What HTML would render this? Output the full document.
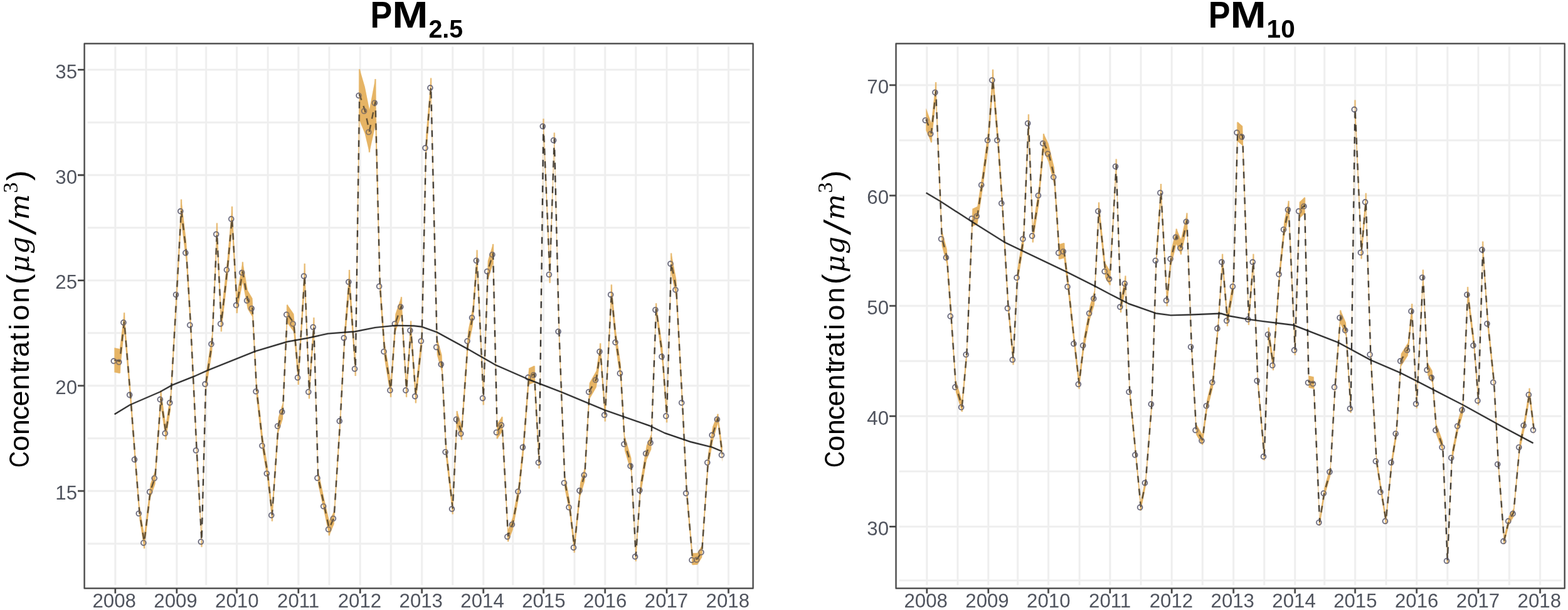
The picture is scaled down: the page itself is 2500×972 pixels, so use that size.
<!DOCTYPE html>
<html lang="en">
<head>
<meta charset="utf-8">
<title>PM2.5 and PM10 concentration trends</title>
<style>
html,body{margin:0;padding:0;background:#fff;}
body{width:2500px;height:972px;overflow:hidden;}
svg{display:block;}
</style>
</head>
<body>
<svg width="2500" height="972" viewBox="0 0 2500 972" role="img" aria-label="Monthly PM2.5 and PM10 concentration, 2008 to 2017">
<rect x="0" y="0" width="2500" height="972" fill="#fff"/>
<path d="M183.8 74.6V932.2M232.9 74.6V932.2M281.8 74.6V932.2M328.6 74.6V932.2M377.5 74.6V932.2M427.1 74.6V932.2M475.8 74.6V932.2M525 74.6V932.2M574.2 74.6V932.2M623.3 74.6V932.2M672.65 74.6V932.2M721.7 74.6V932.2M770.7 74.6V932.2M817.7 74.6V932.2M866.6 74.6V932.2M916 74.6V932.2M964.7 74.6V932.2M1013.8 74.6V932.2M1063 74.6V932.2M1112.4 74.6V932.2M1161.5 74.6V932.2M139.75 111.2H1195.45M139.75 279H1195.45M139.75 446.8H1195.45M139.75 614.6H1195.45M139.75 782.4H1195.45M139.75 195.1H1195.45M139.75 362.9H1195.45M139.75 530.7H1195.45M139.75 698.5H1195.45M139.75 866.3H1195.45" fill="none" stroke="#eeeeee" stroke-width="3.7" stroke-opacity="0.45"/>
<path d="M183.8 74.6V932.2M232.9 74.6V932.2M281.8 74.6V932.2M328.6 74.6V932.2M377.5 74.6V932.2M427.1 74.6V932.2M475.8 74.6V932.2M525 74.6V932.2M574.2 74.6V932.2M623.3 74.6V932.2M672.65 74.6V932.2M721.7 74.6V932.2M770.7 74.6V932.2M817.7 74.6V932.2M866.6 74.6V932.2M916 74.6V932.2M964.7 74.6V932.2M1013.8 74.6V932.2M1063 74.6V932.2M1112.4 74.6V932.2M1161.5 74.6V932.2M139.75 111.2H1195.45M139.75 279H1195.45M139.75 446.8H1195.45M139.75 614.6H1195.45M139.75 782.4H1195.45M139.75 195.1H1195.45M139.75 362.9H1195.45M139.75 530.7H1195.45M139.75 698.5H1195.45M139.75 866.3H1195.45" fill="none" stroke="#eeeeee" stroke-width="2.3"/>
<polygon points="182.5,554.2 190.9,556 198.1,497.8 207.8,614.9 215.6,719.38 222.45,806.53 230,852.6 239.8,771.47 247.35,749.58 256.5,622.19 264.4,676.92 271.9,627.66 281.7,453.05 289,317.3 297,385.56 303.95,502.2 313.6,704.68 321.5,851.4 328.2,597.47 338.1,532.81 345.9,355.1 352.8,500.18 362.6,412.92 369.95,328.5 377.75,469.98 386.9,417.1 394.85,462.68 402.4,475.45 409.2,609.42 419.1,696.98 426.5,741.88 433.9,808.2 443.8,665.36 450.9,642.26 458,485.28 468.3,500.18 475.75,587.13 485.7,419.5 493,610.13 500.4,505.45 507.15,749.17 516.9,794.88 524.8,830.3 532.55,814.64 542.5,657.15 549.5,522.98 557,429.6 566.7,572.84 573.25,109.7 581.7,138.5 588.95,175 598.45,125.5 605.8,439.58 613.2,545.07 623.1,607.5 630.55,500.18 639.95,472.82 648.05,607.5 655.1,510.92 662.9,617.33 672.55,528.05 679.25,216.22 687.1,123.9 696.9,537.88 704.4,565.64 711.3,707.12 721.7,799.13 728.7,654.52 735.95,677.52 746.25,528.05 753.7,490.35 760.6,398.03 770.75,620.37 777.9,415.56 786.1,388.4 792.7,675.5 800.55,663.74 810.1,844.03 817.55,824.27 827.15,771.06 834.7,699.52 843.25,586.72 851.9,582.77 859.6,724.24 866.5,188.8 876.6,420.63 883.8,211.1 891.3,512.64 900.6,757.08 908.2,796.5 915.7,861.2 925.2,769.54 932.4,744.41 939.9,610.13 950.75,590.88 957.2,546.5 964.8,647.32 974.9,453.05 982.3,530.17 989.6,580.14 996.1,694.45 1006.3,729.71 1013.8,876.15 1021,768.93 1030.9,709.75 1038.25,692.32 1046.15,482.7 1056.2,553.18 1063.1,649.05 1070.2,403.09 1078.2,445.15 1087.95,627.66 1094.9,773.9 1104.2,881.62 1111.95,881.22 1119.2,869.16 1129,724.24 1136.35,679.75 1144.55,659.3 1151.65,711.98 1151.65,735.02 1144.55,674.3 1136.35,703.65 1129,746.96 1119.2,888.04 1111.95,899.78 1104.2,900.18 1094.9,795.3 1087.95,652.94 1078.2,475.25 1070.2,434.31 1063.1,673.75 1056.2,580.42 1046.15,501.9 1038.25,715.88 1030.9,732.85 1021,790.47 1013.8,894.85 1006.3,752.29 996.1,717.95 989.6,606.66 982.3,558.03 974.9,482.95 964.8,672.08 957.2,571.1 950.75,617.12 939.9,635.87 932.4,766.59 925.2,791.06 915.7,881 908.2,817.3 900.6,778.92 891.3,540.96 883.8,232.9 876.6,451.37 866.5,210.6 859.6,746.96 851.9,609.23 843.25,613.08 834.7,722.88 827.15,792.54 817.55,844.33 810.1,863.57 800.55,688.06 792.7,699.5 786.1,420 777.9,446.44 770.75,645.83 760.6,429.37 753.7,519.25 746.25,555.95 735.95,701.48 728.7,679.08 721.7,819.87 711.3,730.28 704.4,592.56 696.9,565.52 687.1,152.9 679.25,252.38 672.55,555.95 662.9,642.87 655.1,539.28 648.05,633.3 639.95,502.18 630.55,528.82 623.1,633.3 613.2,572.53 605.8,469.82 598.45,199.5 588.95,243 581.7,212.5 573.25,191.7 566.7,599.56 557,466 549.5,551.02 542.5,681.65 532.55,834.96 524.8,853.7 516.9,815.72 507.15,771.23 500.4,533.95 493,635.87 485.7,457.5 475.75,613.47 468.3,528.82 458,514.32 450.9,667.14 443.8,689.64 433.9,831 426.5,764.12 419.1,720.42 409.2,635.18 402.4,504.75 394.85,492.32 386.9,449.1 377.75,499.42 369.95,366.3 362.6,443.88 352.8,528.82 345.9,388.5 338.1,560.59 328.2,623.53 321.5,872 313.6,727.92 303.95,530.8 297,417.24 289,352.9 281.7,482.95 271.9,652.94 264.4,700.88 256.5,647.61 247.35,771.62 239.8,792.93 230,874.6 222.45,827.07 215.6,742.22 207.8,640.5 198.1,527 190.9,595 182.5,593.2" fill="#e6b566" stroke="#e6b566" stroke-opacity="0.16" stroke-width="1.1" stroke-linejoin="round"/>
<path d="M190.9 575.5V594.5M198.1 498.3V512.4M230 863.6V874.1M256.5 622.69V634.9M264.4 688.9V700.38M289 317.8V335.1M321.5 861.7V871.5M345.9 355.6V371.8M352.8 514.5V528.32M369.95 329V347.4M377.75 484.7V498.92M386.9 417.6V433.1M433.9 819.6V830.5M458 485.78V499.8M475.75 600.3V612.97M485.7 420V438.5M493 623V635.37M500.4 505.95V519.7M524.8 842V853.2M557 430.1V447.8M566.7 586.2V599.06M573.25 110.2V150.7M588.95 209V242.5M598.45 126V162.5M623.1 620.4V632.8M639.95 473.32V487.5M648.05 620.4V632.8M655.1 511.42V525.1M662.9 630.1V642.37M687.1 124.4V138.4M721.7 809.5V819.37M728.7 655.02V666.8M735.95 689.5V700.98M760.6 398.53V413.7M770.75 633.1V645.33M786.1 388.9V404.2M792.7 687.5V699M800.55 664.24V675.9M810.1 853.8V863.07M851.9 583.27V596M859.6 735.6V746.46M866.5 189.3V199.7M876.6 436V450.87M883.8 211.6V222M915.7 871.1V880.5M957.2 547V558.8M964.8 659.7V671.58M974.9 453.55V468M1013.8 885.5V894.35M1046.15 483.2V492.3M1063.1 661.4V673.25M1070.2 403.59V418.7M1104.2 890.9V899.68M1144.55 659.8V666.8" fill="none" stroke="#e6b566" stroke-width="3.2" stroke-opacity="0.3"/>
<path d="M190.9 575.5V594.5M198.1 498.3V512.4M230 863.6V874.1M256.5 622.69V634.9M264.4 688.9V700.38M289 317.8V335.1M321.5 861.7V871.5M345.9 355.6V371.8M352.8 514.5V528.32M369.95 329V347.4M377.75 484.7V498.92M386.9 417.6V433.1M433.9 819.6V830.5M458 485.78V499.8M475.75 600.3V612.97M485.7 420V438.5M493 623V635.37M500.4 505.95V519.7M524.8 842V853.2M557 430.1V447.8M566.7 586.2V599.06M573.25 110.2V150.7M588.95 209V242.5M598.45 126V162.5M623.1 620.4V632.8M639.95 473.32V487.5M648.05 620.4V632.8M655.1 511.42V525.1M662.9 630.1V642.37M687.1 124.4V138.4M721.7 809.5V819.37M728.7 655.02V666.8M735.95 689.5V700.98M760.6 398.53V413.7M770.75 633.1V645.33M786.1 388.9V404.2M792.7 687.5V699M800.55 664.24V675.9M810.1 853.8V863.07M851.9 583.27V596M859.6 735.6V746.46M866.5 189.3V199.7M876.6 436V450.87M883.8 211.6V222M915.7 871.1V880.5M957.2 547V558.8M964.8 659.7V671.58M974.9 453.55V468M1013.8 885.5V894.35M1046.15 483.2V492.3M1063.1 661.4V673.25M1070.2 403.59V418.7M1104.2 890.9V899.68M1144.55 659.8V666.8" fill="none" stroke="#e6b566" stroke-width="1.9" stroke-opacity="0.8"/>
<path d="M182.5 573.7 L190.9 575.5 L198.1 512.4 L207.8 627.7 L215.6 730.8 L222.45 816.8 L230 863.6 L239.8 782.2 L247.35 760.6 L256.5 634.9 L264.4 688.9 L271.9 640.3 L281.7 468 L289 335.1 L297 401.4 L303.95 516.5 L313.6 716.3 L321.5 861.7 L328.2 610.5 L338.1 546.7 L345.9 371.8 L352.8 514.5 L362.6 428.4 L369.95 347.4 L377.75 484.7 L386.9 433.1 L394.85 477.5 L402.4 490.1 L409.2 622.3 L419.1 708.7 L426.5 753 L433.9 819.6 L443.8 677.5 L450.9 654.7 L458 499.8 L468.3 514.5 L475.75 600.3 L485.7 438.5 L493 623 L500.4 519.7 L507.15 760.2 L516.9 805.3 L524.8 842 L532.55 824.8 L542.5 669.4 L549.5 537 L557 447.8 L566.7 586.2 L573.25 150.7 L581.7 175.5 L588.95 209 L598.45 162.5 L605.8 454.7 L613.2 558.8 L623.1 620.4 L630.55 514.5 L639.95 487.5 L648.05 620.4 L655.1 525.1 L662.9 630.1 L672.55 542 L679.25 234.3 L687.1 138.4 L696.9 551.7 L704.4 579.1 L711.3 718.7 L721.7 809.5 L728.7 666.8 L735.95 689.5 L746.25 542 L753.7 504.8 L760.6 413.7 L770.75 633.1 L777.9 431 L786.1 404.2 L792.7 687.5 L800.55 675.9 L810.1 853.8 L817.55 834.3 L827.15 781.8 L834.7 711.2 L843.25 599.9 L851.9 596 L859.6 735.6 L866.5 199.7 L876.6 436 L883.8 222 L891.3 526.8 L900.6 768 L908.2 806.9 L915.7 871.1 L925.2 780.3 L932.4 755.5 L939.9 623 L950.75 604 L957.2 558.8 L964.8 659.7 L974.9 468 L982.3 544.1 L989.6 593.4 L996.1 706.2 L1006.3 741 L1013.8 885.5 L1021 779.7 L1030.9 721.3 L1038.25 704.1 L1046.15 492.3 L1056.2 566.8 L1063.1 661.4 L1070.2 418.7 L1078.2 460.2 L1087.95 640.3 L1094.9 784.6 L1104.2 890.9 L1111.95 890.5 L1119.2 878.6 L1129 735.6 L1136.35 691.7 L1144.55 666.8 L1151.65 723.5" fill="none" stroke="#1a1a1a" stroke-width="3.4" stroke-opacity="0.26" stroke-dasharray="11.1 9.4" stroke-dashoffset="0.4" stroke-linejoin="round"/>
<path d="M182.5 573.7 L190.9 575.5 L198.1 512.4 L207.8 627.7 L215.6 730.8 L222.45 816.8 L230 863.6 L239.8 782.2 L247.35 760.6 L256.5 634.9 L264.4 688.9 L271.9 640.3 L281.7 468 L289 335.1 L297 401.4 L303.95 516.5 L313.6 716.3 L321.5 861.7 L328.2 610.5 L338.1 546.7 L345.9 371.8 L352.8 514.5 L362.6 428.4 L369.95 347.4 L377.75 484.7 L386.9 433.1 L394.85 477.5 L402.4 490.1 L409.2 622.3 L419.1 708.7 L426.5 753 L433.9 819.6 L443.8 677.5 L450.9 654.7 L458 499.8 L468.3 514.5 L475.75 600.3 L485.7 438.5 L493 623 L500.4 519.7 L507.15 760.2 L516.9 805.3 L524.8 842 L532.55 824.8 L542.5 669.4 L549.5 537 L557 447.8 L566.7 586.2 L573.25 150.7 L581.7 175.5 L588.95 209 L598.45 162.5 L605.8 454.7 L613.2 558.8 L623.1 620.4 L630.55 514.5 L639.95 487.5 L648.05 620.4 L655.1 525.1 L662.9 630.1 L672.55 542 L679.25 234.3 L687.1 138.4 L696.9 551.7 L704.4 579.1 L711.3 718.7 L721.7 809.5 L728.7 666.8 L735.95 689.5 L746.25 542 L753.7 504.8 L760.6 413.7 L770.75 633.1 L777.9 431 L786.1 404.2 L792.7 687.5 L800.55 675.9 L810.1 853.8 L817.55 834.3 L827.15 781.8 L834.7 711.2 L843.25 599.9 L851.9 596 L859.6 735.6 L866.5 199.7 L876.6 436 L883.8 222 L891.3 526.8 L900.6 768 L908.2 806.9 L915.7 871.1 L925.2 780.3 L932.4 755.5 L939.9 623 L950.75 604 L957.2 558.8 L964.8 659.7 L974.9 468 L982.3 544.1 L989.6 593.4 L996.1 706.2 L1006.3 741 L1013.8 885.5 L1021 779.7 L1030.9 721.3 L1038.25 704.1 L1046.15 492.3 L1056.2 566.8 L1063.1 661.4 L1070.2 418.7 L1078.2 460.2 L1087.95 640.3 L1094.9 784.6 L1104.2 890.9 L1111.95 890.5 L1119.2 878.6 L1129 735.6 L1136.35 691.7 L1144.55 666.8 L1151.65 723.5" fill="none" stroke="#1a1a1a" stroke-width="1.9" stroke-opacity="0.9" stroke-dasharray="10.3 10.2" stroke-linejoin="round"/>
<g fill="none" stroke="#4b4b62" stroke-width="2.7" stroke-opacity="0.22"><circle cx="181.3" cy="575.2" r="3.9"/><circle cx="189.7" cy="577" r="3.9"/><circle cx="196.9" cy="513.9" r="3.9"/><circle cx="206.6" cy="629.2" r="3.9"/><circle cx="214.4" cy="732.3" r="3.9"/><circle cx="221.25" cy="818.3" r="3.9"/><circle cx="228.8" cy="865.1" r="3.9"/><circle cx="238.6" cy="783.7" r="3.9"/><circle cx="246.15" cy="762.1" r="3.9"/><circle cx="255.3" cy="636.4" r="3.9"/><circle cx="263.2" cy="690.4" r="3.9"/><circle cx="270.7" cy="641.8" r="3.9"/><circle cx="280.5" cy="469.5" r="3.9"/><circle cx="287.8" cy="336.6" r="3.9"/><circle cx="295.8" cy="402.9" r="3.9"/><circle cx="302.75" cy="518" r="3.9"/><circle cx="312.4" cy="717.8" r="3.9"/><circle cx="320.3" cy="863.2" r="3.9"/><circle cx="327" cy="612" r="3.9"/><circle cx="336.9" cy="548.2" r="3.9"/><circle cx="344.7" cy="373.3" r="3.9"/><circle cx="351.6" cy="516" r="3.9"/><circle cx="361.4" cy="429.9" r="3.9"/><circle cx="368.75" cy="348.9" r="3.9"/><circle cx="376.55" cy="486.2" r="3.9"/><circle cx="385.7" cy="434.6" r="3.9"/><circle cx="393.65" cy="479" r="3.9"/><circle cx="401.2" cy="491.6" r="3.9"/><circle cx="408" cy="623.8" r="3.9"/><circle cx="417.9" cy="710.2" r="3.9"/><circle cx="425.3" cy="754.5" r="3.9"/><circle cx="432.7" cy="821.1" r="3.9"/><circle cx="442.6" cy="679" r="3.9"/><circle cx="449.7" cy="656.2" r="3.9"/><circle cx="456.8" cy="501.3" r="3.9"/><circle cx="467.1" cy="516" r="3.9"/><circle cx="474.55" cy="601.8" r="3.9"/><circle cx="484.5" cy="440" r="3.9"/><circle cx="491.8" cy="624.5" r="3.9"/><circle cx="499.2" cy="521.2" r="3.9"/><circle cx="505.95" cy="761.7" r="3.9"/><circle cx="515.7" cy="806.8" r="3.9"/><circle cx="523.6" cy="843.5" r="3.9"/><circle cx="531.35" cy="826.3" r="3.9"/><circle cx="541.3" cy="670.9" r="3.9"/><circle cx="548.3" cy="538.5" r="3.9"/><circle cx="555.8" cy="449.3" r="3.9"/><circle cx="565.5" cy="587.7" r="3.9"/><circle cx="572.05" cy="152.2" r="3.9"/><circle cx="580.5" cy="177" r="3.9"/><circle cx="587.75" cy="210.5" r="3.9"/><circle cx="597.25" cy="164" r="3.9"/><circle cx="604.6" cy="456.2" r="3.9"/><circle cx="612" cy="560.3" r="3.9"/><circle cx="621.9" cy="621.9" r="3.9"/><circle cx="629.35" cy="516" r="3.9"/><circle cx="638.75" cy="489" r="3.9"/><circle cx="646.85" cy="621.9" r="3.9"/><circle cx="653.9" cy="526.6" r="3.9"/><circle cx="661.7" cy="631.6" r="3.9"/><circle cx="671.35" cy="543.5" r="3.9"/><circle cx="678.05" cy="235.8" r="3.9"/><circle cx="685.9" cy="139.9" r="3.9"/><circle cx="695.7" cy="553.2" r="3.9"/><circle cx="703.2" cy="580.6" r="3.9"/><circle cx="710.1" cy="720.2" r="3.9"/><circle cx="720.5" cy="811" r="3.9"/><circle cx="727.5" cy="668.3" r="3.9"/><circle cx="734.75" cy="691" r="3.9"/><circle cx="745.05" cy="543.5" r="3.9"/><circle cx="752.5" cy="506.3" r="3.9"/><circle cx="759.4" cy="415.2" r="3.9"/><circle cx="769.55" cy="634.6" r="3.9"/><circle cx="776.7" cy="432.5" r="3.9"/><circle cx="784.9" cy="405.7" r="3.9"/><circle cx="791.5" cy="689" r="3.9"/><circle cx="799.35" cy="677.4" r="3.9"/><circle cx="808.9" cy="855.3" r="3.9"/><circle cx="816.35" cy="835.8" r="3.9"/><circle cx="825.95" cy="783.3" r="3.9"/><circle cx="833.5" cy="712.7" r="3.9"/><circle cx="842.05" cy="601.4" r="3.9"/><circle cx="850.7" cy="597.5" r="3.9"/><circle cx="858.4" cy="737.1" r="3.9"/><circle cx="865.3" cy="201.2" r="3.9"/><circle cx="875.4" cy="437.5" r="3.9"/><circle cx="882.6" cy="223.5" r="3.9"/><circle cx="890.1" cy="528.3" r="3.9"/><circle cx="899.4" cy="769.5" r="3.9"/><circle cx="907" cy="808.4" r="3.9"/><circle cx="914.5" cy="872.6" r="3.9"/><circle cx="924" cy="781.8" r="3.9"/><circle cx="931.2" cy="757" r="3.9"/><circle cx="938.7" cy="624.5" r="3.9"/><circle cx="949.55" cy="605.5" r="3.9"/><circle cx="956" cy="560.3" r="3.9"/><circle cx="963.6" cy="661.2" r="3.9"/><circle cx="973.7" cy="469.5" r="3.9"/><circle cx="981.1" cy="545.6" r="3.9"/><circle cx="988.4" cy="594.9" r="3.9"/><circle cx="994.9" cy="707.7" r="3.9"/><circle cx="1005.1" cy="742.5" r="3.9"/><circle cx="1012.6" cy="887" r="3.9"/><circle cx="1019.8" cy="781.2" r="3.9"/><circle cx="1029.7" cy="722.8" r="3.9"/><circle cx="1037.05" cy="705.6" r="3.9"/><circle cx="1044.95" cy="493.8" r="3.9"/><circle cx="1055" cy="568.3" r="3.9"/><circle cx="1061.9" cy="662.9" r="3.9"/><circle cx="1069" cy="420.2" r="3.9"/><circle cx="1077" cy="461.7" r="3.9"/><circle cx="1086.75" cy="641.8" r="3.9"/><circle cx="1093.7" cy="786.1" r="3.9"/><circle cx="1103" cy="892.4" r="3.9"/><circle cx="1110.75" cy="892" r="3.9"/><circle cx="1118" cy="880.1" r="3.9"/><circle cx="1127.8" cy="737.1" r="3.9"/><circle cx="1135.15" cy="693.2" r="3.9"/><circle cx="1143.35" cy="668.3" r="3.9"/><circle cx="1150.45" cy="725" r="3.9"/></g>
<g fill="none" stroke="#4b4b62" stroke-width="1.35" stroke-opacity="0.9"><circle cx="181.3" cy="575.2" r="3.9"/><circle cx="189.7" cy="577" r="3.9"/><circle cx="196.9" cy="513.9" r="3.9"/><circle cx="206.6" cy="629.2" r="3.9"/><circle cx="214.4" cy="732.3" r="3.9"/><circle cx="221.25" cy="818.3" r="3.9"/><circle cx="228.8" cy="865.1" r="3.9"/><circle cx="238.6" cy="783.7" r="3.9"/><circle cx="246.15" cy="762.1" r="3.9"/><circle cx="255.3" cy="636.4" r="3.9"/><circle cx="263.2" cy="690.4" r="3.9"/><circle cx="270.7" cy="641.8" r="3.9"/><circle cx="280.5" cy="469.5" r="3.9"/><circle cx="287.8" cy="336.6" r="3.9"/><circle cx="295.8" cy="402.9" r="3.9"/><circle cx="302.75" cy="518" r="3.9"/><circle cx="312.4" cy="717.8" r="3.9"/><circle cx="320.3" cy="863.2" r="3.9"/><circle cx="327" cy="612" r="3.9"/><circle cx="336.9" cy="548.2" r="3.9"/><circle cx="344.7" cy="373.3" r="3.9"/><circle cx="351.6" cy="516" r="3.9"/><circle cx="361.4" cy="429.9" r="3.9"/><circle cx="368.75" cy="348.9" r="3.9"/><circle cx="376.55" cy="486.2" r="3.9"/><circle cx="385.7" cy="434.6" r="3.9"/><circle cx="393.65" cy="479" r="3.9"/><circle cx="401.2" cy="491.6" r="3.9"/><circle cx="408" cy="623.8" r="3.9"/><circle cx="417.9" cy="710.2" r="3.9"/><circle cx="425.3" cy="754.5" r="3.9"/><circle cx="432.7" cy="821.1" r="3.9"/><circle cx="442.6" cy="679" r="3.9"/><circle cx="449.7" cy="656.2" r="3.9"/><circle cx="456.8" cy="501.3" r="3.9"/><circle cx="467.1" cy="516" r="3.9"/><circle cx="474.55" cy="601.8" r="3.9"/><circle cx="484.5" cy="440" r="3.9"/><circle cx="491.8" cy="624.5" r="3.9"/><circle cx="499.2" cy="521.2" r="3.9"/><circle cx="505.95" cy="761.7" r="3.9"/><circle cx="515.7" cy="806.8" r="3.9"/><circle cx="523.6" cy="843.5" r="3.9"/><circle cx="531.35" cy="826.3" r="3.9"/><circle cx="541.3" cy="670.9" r="3.9"/><circle cx="548.3" cy="538.5" r="3.9"/><circle cx="555.8" cy="449.3" r="3.9"/><circle cx="565.5" cy="587.7" r="3.9"/><circle cx="572.05" cy="152.2" r="3.9"/><circle cx="580.5" cy="177" r="3.9"/><circle cx="587.75" cy="210.5" r="3.9"/><circle cx="597.25" cy="164" r="3.9"/><circle cx="604.6" cy="456.2" r="3.9"/><circle cx="612" cy="560.3" r="3.9"/><circle cx="621.9" cy="621.9" r="3.9"/><circle cx="629.35" cy="516" r="3.9"/><circle cx="638.75" cy="489" r="3.9"/><circle cx="646.85" cy="621.9" r="3.9"/><circle cx="653.9" cy="526.6" r="3.9"/><circle cx="661.7" cy="631.6" r="3.9"/><circle cx="671.35" cy="543.5" r="3.9"/><circle cx="678.05" cy="235.8" r="3.9"/><circle cx="685.9" cy="139.9" r="3.9"/><circle cx="695.7" cy="553.2" r="3.9"/><circle cx="703.2" cy="580.6" r="3.9"/><circle cx="710.1" cy="720.2" r="3.9"/><circle cx="720.5" cy="811" r="3.9"/><circle cx="727.5" cy="668.3" r="3.9"/><circle cx="734.75" cy="691" r="3.9"/><circle cx="745.05" cy="543.5" r="3.9"/><circle cx="752.5" cy="506.3" r="3.9"/><circle cx="759.4" cy="415.2" r="3.9"/><circle cx="769.55" cy="634.6" r="3.9"/><circle cx="776.7" cy="432.5" r="3.9"/><circle cx="784.9" cy="405.7" r="3.9"/><circle cx="791.5" cy="689" r="3.9"/><circle cx="799.35" cy="677.4" r="3.9"/><circle cx="808.9" cy="855.3" r="3.9"/><circle cx="816.35" cy="835.8" r="3.9"/><circle cx="825.95" cy="783.3" r="3.9"/><circle cx="833.5" cy="712.7" r="3.9"/><circle cx="842.05" cy="601.4" r="3.9"/><circle cx="850.7" cy="597.5" r="3.9"/><circle cx="858.4" cy="737.1" r="3.9"/><circle cx="865.3" cy="201.2" r="3.9"/><circle cx="875.4" cy="437.5" r="3.9"/><circle cx="882.6" cy="223.5" r="3.9"/><circle cx="890.1" cy="528.3" r="3.9"/><circle cx="899.4" cy="769.5" r="3.9"/><circle cx="907" cy="808.4" r="3.9"/><circle cx="914.5" cy="872.6" r="3.9"/><circle cx="924" cy="781.8" r="3.9"/><circle cx="931.2" cy="757" r="3.9"/><circle cx="938.7" cy="624.5" r="3.9"/><circle cx="949.55" cy="605.5" r="3.9"/><circle cx="956" cy="560.3" r="3.9"/><circle cx="963.6" cy="661.2" r="3.9"/><circle cx="973.7" cy="469.5" r="3.9"/><circle cx="981.1" cy="545.6" r="3.9"/><circle cx="988.4" cy="594.9" r="3.9"/><circle cx="994.9" cy="707.7" r="3.9"/><circle cx="1005.1" cy="742.5" r="3.9"/><circle cx="1012.6" cy="887" r="3.9"/><circle cx="1019.8" cy="781.2" r="3.9"/><circle cx="1029.7" cy="722.8" r="3.9"/><circle cx="1037.05" cy="705.6" r="3.9"/><circle cx="1044.95" cy="493.8" r="3.9"/><circle cx="1055" cy="568.3" r="3.9"/><circle cx="1061.9" cy="662.9" r="3.9"/><circle cx="1069" cy="420.2" r="3.9"/><circle cx="1077" cy="461.7" r="3.9"/><circle cx="1086.75" cy="641.8" r="3.9"/><circle cx="1093.7" cy="786.1" r="3.9"/><circle cx="1103" cy="892.4" r="3.9"/><circle cx="1110.75" cy="892" r="3.9"/><circle cx="1118" cy="880.1" r="3.9"/><circle cx="1127.8" cy="737.1" r="3.9"/><circle cx="1135.15" cy="693.2" r="3.9"/><circle cx="1143.35" cy="668.3" r="3.9"/><circle cx="1150.45" cy="725" r="3.9"/></g>
<polygon points="182.5,554.2 190.9,556 198.1,497.8 207.8,614.9 215.6,719.38 222.45,806.53 230,852.6 239.8,771.47 247.35,749.58 256.5,622.19 264.4,676.92 271.9,627.66 281.7,453.05 289,317.3 297,385.56 303.95,502.2 313.6,704.68 321.5,851.4 328.2,597.47 338.1,532.81 345.9,355.1 352.8,500.18 362.6,412.92 369.95,328.5 377.75,469.98 386.9,417.1 394.85,462.68 402.4,475.45 409.2,609.42 419.1,696.98 426.5,741.88 433.9,808.2 443.8,665.36 450.9,642.26 458,485.28 468.3,500.18 475.75,587.13 485.7,419.5 493,610.13 500.4,505.45 507.15,749.17 516.9,794.88 524.8,830.3 532.55,814.64 542.5,657.15 549.5,522.98 557,429.6 566.7,572.84 573.25,109.7 581.7,138.5 588.95,175 598.45,125.5 605.8,439.58 613.2,545.07 623.1,607.5 630.55,500.18 639.95,472.82 648.05,607.5 655.1,510.92 662.9,617.33 672.55,528.05 679.25,216.22 687.1,123.9 696.9,537.88 704.4,565.64 711.3,707.12 721.7,799.13 728.7,654.52 735.95,677.52 746.25,528.05 753.7,490.35 760.6,398.03 770.75,620.37 777.9,415.56 786.1,388.4 792.7,675.5 800.55,663.74 810.1,844.03 817.55,824.27 827.15,771.06 834.7,699.52 843.25,586.72 851.9,582.77 859.6,724.24 866.5,188.8 876.6,420.63 883.8,211.1 891.3,512.64 900.6,757.08 908.2,796.5 915.7,861.2 925.2,769.54 932.4,744.41 939.9,610.13 950.75,590.88 957.2,546.5 964.8,647.32 974.9,453.05 982.3,530.17 989.6,580.14 996.1,694.45 1006.3,729.71 1013.8,876.15 1021,768.93 1030.9,709.75 1038.25,692.32 1046.15,482.7 1056.2,553.18 1063.1,649.05 1070.2,403.09 1078.2,445.15 1087.95,627.66 1094.9,773.9 1104.2,881.62 1111.95,881.22 1119.2,869.16 1129,724.24 1136.35,679.75 1144.55,659.3 1151.65,711.98 1151.65,735.02 1144.55,674.3 1136.35,703.65 1129,746.96 1119.2,888.04 1111.95,899.78 1104.2,900.18 1094.9,795.3 1087.95,652.94 1078.2,475.25 1070.2,434.31 1063.1,673.75 1056.2,580.42 1046.15,501.9 1038.25,715.88 1030.9,732.85 1021,790.47 1013.8,894.85 1006.3,752.29 996.1,717.95 989.6,606.66 982.3,558.03 974.9,482.95 964.8,672.08 957.2,571.1 950.75,617.12 939.9,635.87 932.4,766.59 925.2,791.06 915.7,881 908.2,817.3 900.6,778.92 891.3,540.96 883.8,232.9 876.6,451.37 866.5,210.6 859.6,746.96 851.9,609.23 843.25,613.08 834.7,722.88 827.15,792.54 817.55,844.33 810.1,863.57 800.55,688.06 792.7,699.5 786.1,420 777.9,446.44 770.75,645.83 760.6,429.37 753.7,519.25 746.25,555.95 735.95,701.48 728.7,679.08 721.7,819.87 711.3,730.28 704.4,592.56 696.9,565.52 687.1,152.9 679.25,252.38 672.55,555.95 662.9,642.87 655.1,539.28 648.05,633.3 639.95,502.18 630.55,528.82 623.1,633.3 613.2,572.53 605.8,469.82 598.45,199.5 588.95,243 581.7,212.5 573.25,191.7 566.7,599.56 557,466 549.5,551.02 542.5,681.65 532.55,834.96 524.8,853.7 516.9,815.72 507.15,771.23 500.4,533.95 493,635.87 485.7,457.5 475.75,613.47 468.3,528.82 458,514.32 450.9,667.14 443.8,689.64 433.9,831 426.5,764.12 419.1,720.42 409.2,635.18 402.4,504.75 394.85,492.32 386.9,449.1 377.75,499.42 369.95,366.3 362.6,443.88 352.8,528.82 345.9,388.5 338.1,560.59 328.2,623.53 321.5,872 313.6,727.92 303.95,530.8 297,417.24 289,352.9 281.7,482.95 271.9,652.94 264.4,700.88 256.5,647.61 247.35,771.62 239.8,792.93 230,874.6 222.45,827.07 215.6,742.22 207.8,640.5 198.1,527 190.9,595 182.5,593.2" fill="#e6b566" fill-opacity="0.28"/>
<polyline points="182.6,660.1 207.5,645 255,624.5 274.4,613.7 311.2,599 331.7,589.9 407.3,559.7 458.1,544.5 490.5,538.7 522.9,531.6 566.2,528.3 598.6,521.9 631,518.6 660,519.3 673,520.8 696.7,529.4 744.3,555.3 789.6,581.3 843.7,605 895.5,624.9 964.7,653.6 1036,678.5 1059.7,690 1100.8,704 1135.4,712.7 1151,719.2" fill="none" stroke="#1a1a1a" stroke-width="3.4" stroke-opacity="0.26" stroke-linejoin="round"/>
<polyline points="182.6,660.1 207.5,645 255,624.5 274.4,613.7 311.2,599 331.7,589.9 407.3,559.7 458.1,544.5 490.5,538.7 522.9,531.6 566.2,528.3 598.6,521.9 631,518.6 660,519.3 673,520.8 696.7,529.4 744.3,555.3 789.6,581.3 843.7,605 895.5,624.9 964.7,653.6 1036,678.5 1059.7,690 1100.8,704 1135.4,712.7 1151,719.2" fill="none" stroke="#1a1a1a" stroke-width="1.9" stroke-opacity="0.92" stroke-linejoin="round"/>
<rect x="134.55" y="69.4" width="1066.1" height="868" fill="none" stroke="#404040" stroke-width="3.3" stroke-opacity="0.25" stroke-linejoin="round"/>
<rect x="134.55" y="69.4" width="1066.1" height="868" fill="none" stroke="#404040" stroke-width="1.95" stroke-linejoin="round"/>
<path d="M124.05 111.2H134.55M124.05 279H134.55M124.05 446.8H134.55M124.05 614.6H134.55M124.05 782.4H134.55M183.8 937.4V945.4M281.8 937.4V945.4M377.5 937.4V945.4M475.8 937.4V945.4M574.2 937.4V945.4M672.65 937.4V945.4M770.7 937.4V945.4M866.6 937.4V945.4M964.7 937.4V945.4M1063 937.4V945.4M1161.5 937.4V945.4" fill="none" stroke="#404040" stroke-width="3.8" stroke-opacity="0.28"/>
<path d="M124.05 111.2H134.55M124.05 279H134.55M124.05 446.8H134.55M124.05 614.6H134.55M124.05 782.4H134.55M183.8 937.4V945.4M281.8 937.4V945.4M377.5 937.4V945.4M475.8 937.4V945.4M574.2 937.4V945.4M672.65 937.4V945.4M770.7 937.4V945.4M866.6 937.4V945.4M964.7 937.4V945.4M1063 937.4V945.4M1161.5 937.4V945.4" fill="none" stroke="#404040" stroke-width="2.3"/>
<g font-family="'Liberation Sans', Arial, sans-serif" font-size="31.2" fill="#50545e">
<text x="123.05" y="124.8" text-anchor="end">35</text>
<text x="123.05" y="292.6" text-anchor="end">30</text>
<text x="123.05" y="460.4" text-anchor="end">25</text>
<text x="123.05" y="628.2" text-anchor="end">20</text>
<text x="123.05" y="796" text-anchor="end">15</text>
<text x="182.2" y="968.2" text-anchor="middle">2008</text>
<text x="280.01" y="968.2" text-anchor="middle">2009</text>
<text x="377.82" y="968.2" text-anchor="middle">2010</text>
<text x="475.63" y="968.2" text-anchor="middle">2011</text>
<text x="573.44" y="968.2" text-anchor="middle">2012</text>
<text x="671.25" y="968.2" text-anchor="middle">2013</text>
<text x="769.06" y="968.2" text-anchor="middle">2014</text>
<text x="866.87" y="968.2" text-anchor="middle">2015</text>
<text x="964.68" y="968.2" text-anchor="middle">2016</text>
<text x="1062.49" y="968.2" text-anchor="middle">2017</text>
<text x="1160.3" y="968.2" text-anchor="middle">2018</text>
</g>
<text font-family="'Liberation Sans', Arial, sans-serif" font-weight="bold" fill="#000"><tspan x="590.45" y="44.3" font-size="59.8" textLength="34.7" lengthAdjust="spacingAndGlyphs">P</tspan><tspan x="625.2" y="44.3" font-size="59.8" textLength="57.2" lengthAdjust="spacingAndGlyphs">M</tspan><tspan x="683.4" y="60.1" font-size="40.6" textLength="54.7" lengthAdjust="spacingAndGlyphs">2.5</tspan></text>
<text transform="translate(46.3 743.5) rotate(-90)" fill="#000" font-family="'Liberation Sans', Arial, sans-serif" font-size="45" x="-6.83 24.62 50.45 74.28 96.03 121.9 148.97 159.72 174.45 200.82 217.55 232.78 260.7" y="0"><tspan x="-1.4" textLength="26" lengthAdjust="spacingAndGlyphs">C</tspan>oncentration<tspan font-family="'Liberation Sans', Arial, sans-serif" font-size="49.4" x="290.21" y="0">(</tspan><tspan font-family="'DejaVu Serif', 'Liberation Serif', serif" font-style="italic" font-size="43.5" x="308.96 338.88" y="0">μg</tspan><tspan font-family="'Liberation Sans', Arial, sans-serif" font-style="italic" font-size="60" x="372.15" y="10.5">/</tspan><tspan font-family="'DejaVu Serif', 'Liberation Serif', serif" font-style="italic" font-size="43.5" x="393.14" y="0">m</tspan><tspan font-family="'Liberation Serif', serif" font-size="34" x="435.98" y="-18.4">3</tspan><tspan font-family="'Liberation Sans', Arial, sans-serif" font-size="49.4" x="455.53" y="0">)</tspan></text>
<path d="M1477.8 74.6V932.2M1526.9 74.6V932.2M1575.8 74.6V932.2M1622.6 74.6V932.2M1671.5 74.6V932.2M1721.1 74.6V932.2M1769.8 74.6V932.2M1819 74.6V932.2M1868.2 74.6V932.2M1917.3 74.6V932.2M1966.65 74.6V932.2M2015.7 74.6V932.2M2064.7 74.6V932.2M2111.7 74.6V932.2M2160.6 74.6V932.2M2210 74.6V932.2M2258.7 74.6V932.2M2307.8 74.6V932.2M2357 74.6V932.2M2406.4 74.6V932.2M2455.5 74.6V932.2M1433.75 135.7H2489.45M1433.75 311.54H2489.45M1433.75 487.38H2489.45M1433.75 663.22H2489.45M1433.75 839.06H2489.45M1433.75 223.62H2489.45M1433.75 399.46H2489.45M1433.75 575.3H2489.45M1433.75 751.14H2489.45M1433.75 924.9H2489.45" fill="none" stroke="#eeeeee" stroke-width="3.7" stroke-opacity="0.45"/>
<path d="M1477.8 74.6V932.2M1526.9 74.6V932.2M1575.8 74.6V932.2M1622.6 74.6V932.2M1671.5 74.6V932.2M1721.1 74.6V932.2M1769.8 74.6V932.2M1819 74.6V932.2M1868.2 74.6V932.2M1917.3 74.6V932.2M1966.65 74.6V932.2M2015.7 74.6V932.2M2064.7 74.6V932.2M2111.7 74.6V932.2M2160.6 74.6V932.2M2210 74.6V932.2M2258.7 74.6V932.2M2307.8 74.6V932.2M2357 74.6V932.2M2406.4 74.6V932.2M2455.5 74.6V932.2M1433.75 135.7H2489.45M1433.75 311.54H2489.45M1433.75 487.38H2489.45M1433.75 663.22H2489.45M1433.75 839.06H2489.45M1433.75 223.62H2489.45M1433.75 399.46H2489.45M1433.75 575.3H2489.45M1433.75 751.14H2489.45M1433.75 924.9H2489.45" fill="none" stroke="#eeeeee" stroke-width="2.3"/>
<polygon points="1476.5,172.7 1484.9,196.2 1492.1,130.44 1501.8,366.97 1509.6,396.94 1516.45,491.61 1524,606.02 1533.8,638.42 1541.35,553.57 1550.5,332.7 1558.4,329 1565.9,279.89 1575.7,207.7 1583,110.3 1591,207.7 1597.95,309.46 1607.6,478.75 1615.5,561.87 1622.2,429.34 1632.1,366.97 1639.9,181.7 1646.8,362.01 1656.6,296.8 1663.95,212.76 1671.75,229.57 1680.9,267.23 1688.85,389.34 1696.4,387.12 1703.2,444.02 1713.1,536.06 1720.5,601.26 1727.9,538.89 1737.8,486.85 1744.9,463.16 1752,322.11 1762.3,419.31 1769.75,431.56 1779.7,252.9 1787,476.52 1794.4,438.96 1801.15,613.72 1810.9,715.47 1818.8,799.92 1826.55,760.53 1836.5,633.36 1843.5,401.8 1851,292.45 1860.7,466.19 1867.25,399.16 1875.7,364.13 1882.95,381.65 1892.45,339.02 1899.8,541.02 1907.2,675.48 1917.1,692.49 1924.55,636.19 1933.95,598.33 1942.05,511.35 1949.1,404.23 1956.9,498.8 1966.55,443.61 1973.25,194.2 1981.1,201.1 1990.9,496.67 1998.4,404.23 2005.3,595.79 2015.7,717.9 2022.7,521.17 2029.95,570.99 2040.25,423.87 2047.7,351.68 2054.6,319.78 2064.75,546.28 2071.9,322.11 2080.1,314.32 2086.7,598.83 2094.55,600.55 2104.1,824.42 2111.55,777.34 2121.15,742.81 2128.7,606.02 2137.25,494.04 2145.9,514.19 2153.6,640.55 2160.5,159.1 2170.6,388.84 2177.8,307.33 2185.3,553.57 2194.6,725.5 2202.2,775.21 2209.7,822.19 2219.2,727.72 2226.4,681.05 2233.9,563.8 2244.75,546.28 2251.2,483.51 2258.8,632.95 2268.9,429.13 2276.3,578.28 2283.6,590.73 2290.1,675.48 2300.3,703.02 2307.8,886.28 2315,720.03 2324.9,668.9 2332.25,642.77 2340.15,456.78 2350.2,538.89 2357.1,627.89 2364.2,384.28 2372.2,503.66 2381.95,598.33 2388.9,730.36 2398.2,854.59 2405.95,822.19 2413.2,810.14 2423,703.02 2430.35,667.88 2438.55,618.37 2445.65,675.18 2445.65,692.23 2438.55,636.83 2430.35,685.12 2423,719.38 2413.2,823.86 2405.95,835.61 2398.2,867.21 2388.9,746.04 2381.95,617.27 2372.2,524.94 2364.2,408.52 2357.1,646.11 2350.2,559.31 2340.15,479.22 2332.25,660.63 2324.9,686.1 2315,735.97 2307.8,898.12 2300.3,719.38 2290.1,692.52 2283.6,609.87 2276.3,597.72 2268.9,452.27 2258.8,651.05 2251.2,505.29 2244.75,566.52 2233.9,583.6 2226.4,697.95 2219.2,743.48 2209.7,835.61 2202.2,789.79 2194.6,741.3 2185.3,573.63 2177.8,333.47 2170.6,412.96 2160.5,186.7 2153.6,658.45 2145.9,535.21 2137.25,515.56 2128.7,624.78 2121.15,758.19 2111.55,791.86 2104.1,837.78 2094.55,619.45 2086.7,617.77 2080.1,340.28 2071.9,347.89 2064.75,566.52 2054.6,345.62 2047.7,376.72 2040.25,447.13 2029.95,590.61 2022.7,542.03 2015.7,733.9 2005.3,614.81 1998.4,427.97 1990.9,518.13 1981.1,232.1 1973.25,225.2 1966.55,466.39 1956.9,520.2 1949.1,427.97 1942.05,532.45 1933.95,617.27 1924.55,654.21 1917.1,709.11 1907.2,692.52 1899.8,561.38 1892.45,364.38 1882.95,405.95 1875.7,388.87 1867.25,423.04 1860.7,488.41 1851,318.95 1843.5,425.6 1836.5,651.44 1826.55,775.47 1818.8,813.88 1810.9,731.53 1801.15,632.28 1794.4,461.84 1787,498.48 1779.7,274.5 1769.75,454.64 1762.3,442.69 1752,347.89 1744.9,485.44 1737.8,508.55 1727.9,559.31 1720.5,620.14 1713.1,556.54 1703.2,466.78 1696.4,411.28 1688.85,413.46 1680.9,294.37 1671.75,257.63 1663.95,241.24 1656.6,323.2 1646.8,386.79 1639.9,208.3 1632.1,391.63 1622.2,452.46 1615.5,581.73 1607.6,500.65 1597.95,335.54 1591,236.3 1583,142.3 1575.7,236.3 1565.9,306.71 1558.4,357 1550.5,360.7 1541.35,573.63 1533.8,656.38 1524,624.78 1516.45,513.19 1509.6,420.86 1501.8,391.63 1492.1,160.96 1484.9,227.4 1476.5,207.7" fill="#e6b566" stroke="#e6b566" stroke-opacity="0.16" stroke-width="1.1" stroke-linejoin="round"/>
<path d="M1484.9 211.8V226.9M1492.1 130.94V145.7M1533.8 647.4V655.88M1583 110.8V126.3M1615.5 571.8V581.23M1639.9 182.2V195M1646.8 374.4V386.29M1663.95 213.26V227M1688.85 401.4V412.96M1696.4 387.62V399.2M1720.5 610.7V619.64M1752 322.61V335M1769.75 443.1V454.14M1779.7 253.4V263.7M1787 487.5V497.98M1794.4 439.46V450.4M1818.8 806.9V813.38M1851 292.95V305.7M1860.7 477.3V487.91M1875.7 364.63V376.5M1882.95 393.8V405.45M1892.45 339.52V351.7M1917.1 700.8V708.61M1949.1 404.73V416.1M1956.9 509.5V519.7M1973.25 194.7V209.7M1990.9 507.4V517.63M1998.4 404.73V416.1M2015.7 725.9V733.4M2022.7 521.67V531.6M2029.95 580.8V590.11M2054.6 320.28V332.7M2064.75 556.4V566.02M2080.1 314.82V327.3M2104.1 831.1V837.28M2137.25 494.54V504.8M2153.6 649.5V657.95M2160.5 159.6V172.9M2170.6 400.9V412.46M2177.8 307.83V320.4M2209.7 828.9V835.11M2251.2 484.01V494.4M2258.8 642V650.55M2268.9 429.63V440.7M2307.8 892.2V897.62M2340.15 457.28V468M2357.1 637V645.61M2364.2 384.78V396.4M2398.2 860.9V866.71M2438.55 618.87V627.6" fill="none" stroke="#e6b566" stroke-width="3.2" stroke-opacity="0.3"/>
<path d="M1484.9 211.8V226.9M1492.1 130.94V145.7M1533.8 647.4V655.88M1583 110.8V126.3M1615.5 571.8V581.23M1639.9 182.2V195M1646.8 374.4V386.29M1663.95 213.26V227M1688.85 401.4V412.96M1696.4 387.62V399.2M1720.5 610.7V619.64M1752 322.61V335M1769.75 443.1V454.14M1779.7 253.4V263.7M1787 487.5V497.98M1794.4 439.46V450.4M1818.8 806.9V813.38M1851 292.95V305.7M1860.7 477.3V487.91M1875.7 364.63V376.5M1882.95 393.8V405.45M1892.45 339.52V351.7M1917.1 700.8V708.61M1949.1 404.73V416.1M1956.9 509.5V519.7M1973.25 194.7V209.7M1990.9 507.4V517.63M1998.4 404.73V416.1M2015.7 725.9V733.4M2022.7 521.67V531.6M2029.95 580.8V590.11M2054.6 320.28V332.7M2064.75 556.4V566.02M2080.1 314.82V327.3M2104.1 831.1V837.28M2137.25 494.54V504.8M2153.6 649.5V657.95M2160.5 159.6V172.9M2170.6 400.9V412.46M2177.8 307.83V320.4M2209.7 828.9V835.11M2251.2 484.01V494.4M2258.8 642V650.55M2268.9 429.63V440.7M2307.8 892.2V897.62M2340.15 457.28V468M2357.1 637V645.61M2364.2 384.78V396.4M2398.2 860.9V866.71M2438.55 618.87V627.6" fill="none" stroke="#e6b566" stroke-width="1.9" stroke-opacity="0.8"/>
<path d="M1476.5 190.2 L1484.9 211.8 L1492.1 145.7 L1501.8 379.3 L1509.6 408.9 L1516.45 502.4 L1524 615.4 L1533.8 647.4 L1541.35 563.6 L1550.5 346.7 L1558.4 343 L1565.9 293.3 L1575.7 222 L1583 126.3 L1591 222 L1597.95 322.5 L1607.6 489.7 L1615.5 571.8 L1622.2 440.9 L1632.1 379.3 L1639.9 195 L1646.8 374.4 L1656.6 310 L1663.95 227 L1671.75 243.6 L1680.9 280.8 L1688.85 401.4 L1696.4 399.2 L1703.2 455.4 L1713.1 546.3 L1720.5 610.7 L1727.9 549.1 L1737.8 497.7 L1744.9 474.3 L1752 335 L1762.3 431 L1769.75 443.1 L1779.7 263.7 L1787 487.5 L1794.4 450.4 L1801.15 623 L1810.9 723.5 L1818.8 806.9 L1826.55 768 L1836.5 642.4 L1843.5 413.7 L1851 305.7 L1860.7 477.3 L1867.25 411.1 L1875.7 376.5 L1882.95 393.8 L1892.45 351.7 L1899.8 551.2 L1907.2 684 L1917.1 700.8 L1924.55 645.2 L1933.95 607.8 L1942.05 521.9 L1949.1 416.1 L1956.9 509.5 L1966.55 455 L1973.25 209.7 L1981.1 216.6 L1990.9 507.4 L1998.4 416.1 L2005.3 605.3 L2015.7 725.9 L2022.7 531.6 L2029.95 580.8 L2040.25 435.5 L2047.7 364.2 L2054.6 332.7 L2064.75 556.4 L2071.9 335 L2080.1 327.3 L2086.7 608.3 L2094.55 610 L2104.1 831.1 L2111.55 784.6 L2121.15 750.5 L2128.7 615.4 L2137.25 504.8 L2145.9 524.7 L2153.6 649.5 L2160.5 172.9 L2170.6 400.9 L2177.8 320.4 L2185.3 563.6 L2194.6 733.4 L2202.2 782.5 L2209.7 828.9 L2219.2 735.6 L2226.4 689.5 L2233.9 573.7 L2244.75 556.4 L2251.2 494.4 L2258.8 642 L2268.9 440.7 L2276.3 588 L2283.6 600.3 L2290.1 684 L2300.3 711.2 L2307.8 892.2 L2315 728 L2324.9 677.5 L2332.25 651.7 L2340.15 468 L2350.2 549.1 L2357.1 637 L2364.2 396.4 L2372.2 514.3 L2381.95 607.8 L2388.9 738.2 L2398.2 860.9 L2405.95 828.9 L2413.2 817 L2423 711.2 L2430.35 676.5 L2438.55 627.6 L2445.65 683.7" fill="none" stroke="#1a1a1a" stroke-width="3.4" stroke-opacity="0.26" stroke-dasharray="11.1 9.4" stroke-dashoffset="0.4" stroke-linejoin="round"/>
<path d="M1476.5 190.2 L1484.9 211.8 L1492.1 145.7 L1501.8 379.3 L1509.6 408.9 L1516.45 502.4 L1524 615.4 L1533.8 647.4 L1541.35 563.6 L1550.5 346.7 L1558.4 343 L1565.9 293.3 L1575.7 222 L1583 126.3 L1591 222 L1597.95 322.5 L1607.6 489.7 L1615.5 571.8 L1622.2 440.9 L1632.1 379.3 L1639.9 195 L1646.8 374.4 L1656.6 310 L1663.95 227 L1671.75 243.6 L1680.9 280.8 L1688.85 401.4 L1696.4 399.2 L1703.2 455.4 L1713.1 546.3 L1720.5 610.7 L1727.9 549.1 L1737.8 497.7 L1744.9 474.3 L1752 335 L1762.3 431 L1769.75 443.1 L1779.7 263.7 L1787 487.5 L1794.4 450.4 L1801.15 623 L1810.9 723.5 L1818.8 806.9 L1826.55 768 L1836.5 642.4 L1843.5 413.7 L1851 305.7 L1860.7 477.3 L1867.25 411.1 L1875.7 376.5 L1882.95 393.8 L1892.45 351.7 L1899.8 551.2 L1907.2 684 L1917.1 700.8 L1924.55 645.2 L1933.95 607.8 L1942.05 521.9 L1949.1 416.1 L1956.9 509.5 L1966.55 455 L1973.25 209.7 L1981.1 216.6 L1990.9 507.4 L1998.4 416.1 L2005.3 605.3 L2015.7 725.9 L2022.7 531.6 L2029.95 580.8 L2040.25 435.5 L2047.7 364.2 L2054.6 332.7 L2064.75 556.4 L2071.9 335 L2080.1 327.3 L2086.7 608.3 L2094.55 610 L2104.1 831.1 L2111.55 784.6 L2121.15 750.5 L2128.7 615.4 L2137.25 504.8 L2145.9 524.7 L2153.6 649.5 L2160.5 172.9 L2170.6 400.9 L2177.8 320.4 L2185.3 563.6 L2194.6 733.4 L2202.2 782.5 L2209.7 828.9 L2219.2 735.6 L2226.4 689.5 L2233.9 573.7 L2244.75 556.4 L2251.2 494.4 L2258.8 642 L2268.9 440.7 L2276.3 588 L2283.6 600.3 L2290.1 684 L2300.3 711.2 L2307.8 892.2 L2315 728 L2324.9 677.5 L2332.25 651.7 L2340.15 468 L2350.2 549.1 L2357.1 637 L2364.2 396.4 L2372.2 514.3 L2381.95 607.8 L2388.9 738.2 L2398.2 860.9 L2405.95 828.9 L2413.2 817 L2423 711.2 L2430.35 676.5 L2438.55 627.6 L2445.65 683.7" fill="none" stroke="#1a1a1a" stroke-width="1.9" stroke-opacity="0.9" stroke-dasharray="10.3 10.2" stroke-linejoin="round"/>
<g fill="none" stroke="#4b4b62" stroke-width="2.7" stroke-opacity="0.22"><circle cx="1475.3" cy="191.7" r="3.9"/><circle cx="1483.7" cy="213.3" r="3.9"/><circle cx="1490.9" cy="147.2" r="3.9"/><circle cx="1500.6" cy="380.8" r="3.9"/><circle cx="1508.4" cy="410.4" r="3.9"/><circle cx="1515.25" cy="503.9" r="3.9"/><circle cx="1522.8" cy="616.9" r="3.9"/><circle cx="1532.6" cy="648.9" r="3.9"/><circle cx="1540.15" cy="565.1" r="3.9"/><circle cx="1549.3" cy="348.2" r="3.9"/><circle cx="1557.2" cy="344.5" r="3.9"/><circle cx="1564.7" cy="294.8" r="3.9"/><circle cx="1574.5" cy="223.5" r="3.9"/><circle cx="1581.8" cy="127.8" r="3.9"/><circle cx="1589.8" cy="223.5" r="3.9"/><circle cx="1596.75" cy="324" r="3.9"/><circle cx="1606.4" cy="491.2" r="3.9"/><circle cx="1614.3" cy="573.3" r="3.9"/><circle cx="1621" cy="442.4" r="3.9"/><circle cx="1630.9" cy="380.8" r="3.9"/><circle cx="1638.7" cy="196.5" r="3.9"/><circle cx="1645.6" cy="375.9" r="3.9"/><circle cx="1655.4" cy="311.5" r="3.9"/><circle cx="1662.75" cy="228.5" r="3.9"/><circle cx="1670.55" cy="245.1" r="3.9"/><circle cx="1679.7" cy="282.3" r="3.9"/><circle cx="1687.65" cy="402.9" r="3.9"/><circle cx="1695.2" cy="400.7" r="3.9"/><circle cx="1702" cy="456.9" r="3.9"/><circle cx="1711.9" cy="547.8" r="3.9"/><circle cx="1719.3" cy="612.2" r="3.9"/><circle cx="1726.7" cy="550.6" r="3.9"/><circle cx="1736.6" cy="499.2" r="3.9"/><circle cx="1743.7" cy="475.8" r="3.9"/><circle cx="1750.8" cy="336.5" r="3.9"/><circle cx="1761.1" cy="432.5" r="3.9"/><circle cx="1768.55" cy="444.6" r="3.9"/><circle cx="1778.5" cy="265.2" r="3.9"/><circle cx="1785.8" cy="489" r="3.9"/><circle cx="1793.2" cy="451.9" r="3.9"/><circle cx="1799.95" cy="624.5" r="3.9"/><circle cx="1809.7" cy="725" r="3.9"/><circle cx="1817.6" cy="808.4" r="3.9"/><circle cx="1825.35" cy="769.5" r="3.9"/><circle cx="1835.3" cy="643.9" r="3.9"/><circle cx="1842.3" cy="415.2" r="3.9"/><circle cx="1849.8" cy="307.2" r="3.9"/><circle cx="1859.5" cy="478.8" r="3.9"/><circle cx="1866.05" cy="412.6" r="3.9"/><circle cx="1874.5" cy="378" r="3.9"/><circle cx="1881.75" cy="395.3" r="3.9"/><circle cx="1891.25" cy="353.2" r="3.9"/><circle cx="1898.6" cy="552.7" r="3.9"/><circle cx="1906" cy="685.5" r="3.9"/><circle cx="1915.9" cy="702.3" r="3.9"/><circle cx="1923.35" cy="646.7" r="3.9"/><circle cx="1932.75" cy="609.3" r="3.9"/><circle cx="1940.85" cy="523.4" r="3.9"/><circle cx="1947.9" cy="417.6" r="3.9"/><circle cx="1955.7" cy="511" r="3.9"/><circle cx="1965.35" cy="456.5" r="3.9"/><circle cx="1972.05" cy="211.2" r="3.9"/><circle cx="1979.9" cy="218.1" r="3.9"/><circle cx="1989.7" cy="508.9" r="3.9"/><circle cx="1997.2" cy="417.6" r="3.9"/><circle cx="2004.1" cy="606.8" r="3.9"/><circle cx="2014.5" cy="727.4" r="3.9"/><circle cx="2021.5" cy="533.1" r="3.9"/><circle cx="2028.75" cy="582.3" r="3.9"/><circle cx="2039.05" cy="437" r="3.9"/><circle cx="2046.5" cy="365.7" r="3.9"/><circle cx="2053.4" cy="334.2" r="3.9"/><circle cx="2063.55" cy="557.9" r="3.9"/><circle cx="2070.7" cy="336.5" r="3.9"/><circle cx="2078.9" cy="328.8" r="3.9"/><circle cx="2085.5" cy="609.8" r="3.9"/><circle cx="2093.35" cy="611.5" r="3.9"/><circle cx="2102.9" cy="832.6" r="3.9"/><circle cx="2110.35" cy="786.1" r="3.9"/><circle cx="2119.95" cy="752" r="3.9"/><circle cx="2127.5" cy="616.9" r="3.9"/><circle cx="2136.05" cy="506.3" r="3.9"/><circle cx="2144.7" cy="526.2" r="3.9"/><circle cx="2152.4" cy="651" r="3.9"/><circle cx="2159.3" cy="174.4" r="3.9"/><circle cx="2169.4" cy="402.4" r="3.9"/><circle cx="2176.6" cy="321.9" r="3.9"/><circle cx="2184.1" cy="565.1" r="3.9"/><circle cx="2193.4" cy="734.9" r="3.9"/><circle cx="2201" cy="784" r="3.9"/><circle cx="2208.5" cy="830.4" r="3.9"/><circle cx="2218" cy="737.1" r="3.9"/><circle cx="2225.2" cy="691" r="3.9"/><circle cx="2232.7" cy="575.2" r="3.9"/><circle cx="2243.55" cy="557.9" r="3.9"/><circle cx="2250" cy="495.9" r="3.9"/><circle cx="2257.6" cy="643.5" r="3.9"/><circle cx="2267.7" cy="442.2" r="3.9"/><circle cx="2275.1" cy="589.5" r="3.9"/><circle cx="2282.4" cy="601.8" r="3.9"/><circle cx="2288.9" cy="685.5" r="3.9"/><circle cx="2299.1" cy="712.7" r="3.9"/><circle cx="2306.6" cy="893.7" r="3.9"/><circle cx="2313.8" cy="729.5" r="3.9"/><circle cx="2323.7" cy="679" r="3.9"/><circle cx="2331.05" cy="653.2" r="3.9"/><circle cx="2338.95" cy="469.5" r="3.9"/><circle cx="2349" cy="550.6" r="3.9"/><circle cx="2355.9" cy="638.5" r="3.9"/><circle cx="2363" cy="397.9" r="3.9"/><circle cx="2371" cy="515.8" r="3.9"/><circle cx="2380.75" cy="609.3" r="3.9"/><circle cx="2387.7" cy="739.7" r="3.9"/><circle cx="2397" cy="862.4" r="3.9"/><circle cx="2404.75" cy="830.4" r="3.9"/><circle cx="2412" cy="818.5" r="3.9"/><circle cx="2421.8" cy="712.7" r="3.9"/><circle cx="2429.15" cy="678" r="3.9"/><circle cx="2437.35" cy="629.1" r="3.9"/><circle cx="2444.45" cy="685.2" r="3.9"/></g>
<g fill="none" stroke="#4b4b62" stroke-width="1.35" stroke-opacity="0.9"><circle cx="1475.3" cy="191.7" r="3.9"/><circle cx="1483.7" cy="213.3" r="3.9"/><circle cx="1490.9" cy="147.2" r="3.9"/><circle cx="1500.6" cy="380.8" r="3.9"/><circle cx="1508.4" cy="410.4" r="3.9"/><circle cx="1515.25" cy="503.9" r="3.9"/><circle cx="1522.8" cy="616.9" r="3.9"/><circle cx="1532.6" cy="648.9" r="3.9"/><circle cx="1540.15" cy="565.1" r="3.9"/><circle cx="1549.3" cy="348.2" r="3.9"/><circle cx="1557.2" cy="344.5" r="3.9"/><circle cx="1564.7" cy="294.8" r="3.9"/><circle cx="1574.5" cy="223.5" r="3.9"/><circle cx="1581.8" cy="127.8" r="3.9"/><circle cx="1589.8" cy="223.5" r="3.9"/><circle cx="1596.75" cy="324" r="3.9"/><circle cx="1606.4" cy="491.2" r="3.9"/><circle cx="1614.3" cy="573.3" r="3.9"/><circle cx="1621" cy="442.4" r="3.9"/><circle cx="1630.9" cy="380.8" r="3.9"/><circle cx="1638.7" cy="196.5" r="3.9"/><circle cx="1645.6" cy="375.9" r="3.9"/><circle cx="1655.4" cy="311.5" r="3.9"/><circle cx="1662.75" cy="228.5" r="3.9"/><circle cx="1670.55" cy="245.1" r="3.9"/><circle cx="1679.7" cy="282.3" r="3.9"/><circle cx="1687.65" cy="402.9" r="3.9"/><circle cx="1695.2" cy="400.7" r="3.9"/><circle cx="1702" cy="456.9" r="3.9"/><circle cx="1711.9" cy="547.8" r="3.9"/><circle cx="1719.3" cy="612.2" r="3.9"/><circle cx="1726.7" cy="550.6" r="3.9"/><circle cx="1736.6" cy="499.2" r="3.9"/><circle cx="1743.7" cy="475.8" r="3.9"/><circle cx="1750.8" cy="336.5" r="3.9"/><circle cx="1761.1" cy="432.5" r="3.9"/><circle cx="1768.55" cy="444.6" r="3.9"/><circle cx="1778.5" cy="265.2" r="3.9"/><circle cx="1785.8" cy="489" r="3.9"/><circle cx="1793.2" cy="451.9" r="3.9"/><circle cx="1799.95" cy="624.5" r="3.9"/><circle cx="1809.7" cy="725" r="3.9"/><circle cx="1817.6" cy="808.4" r="3.9"/><circle cx="1825.35" cy="769.5" r="3.9"/><circle cx="1835.3" cy="643.9" r="3.9"/><circle cx="1842.3" cy="415.2" r="3.9"/><circle cx="1849.8" cy="307.2" r="3.9"/><circle cx="1859.5" cy="478.8" r="3.9"/><circle cx="1866.05" cy="412.6" r="3.9"/><circle cx="1874.5" cy="378" r="3.9"/><circle cx="1881.75" cy="395.3" r="3.9"/><circle cx="1891.25" cy="353.2" r="3.9"/><circle cx="1898.6" cy="552.7" r="3.9"/><circle cx="1906" cy="685.5" r="3.9"/><circle cx="1915.9" cy="702.3" r="3.9"/><circle cx="1923.35" cy="646.7" r="3.9"/><circle cx="1932.75" cy="609.3" r="3.9"/><circle cx="1940.85" cy="523.4" r="3.9"/><circle cx="1947.9" cy="417.6" r="3.9"/><circle cx="1955.7" cy="511" r="3.9"/><circle cx="1965.35" cy="456.5" r="3.9"/><circle cx="1972.05" cy="211.2" r="3.9"/><circle cx="1979.9" cy="218.1" r="3.9"/><circle cx="1989.7" cy="508.9" r="3.9"/><circle cx="1997.2" cy="417.6" r="3.9"/><circle cx="2004.1" cy="606.8" r="3.9"/><circle cx="2014.5" cy="727.4" r="3.9"/><circle cx="2021.5" cy="533.1" r="3.9"/><circle cx="2028.75" cy="582.3" r="3.9"/><circle cx="2039.05" cy="437" r="3.9"/><circle cx="2046.5" cy="365.7" r="3.9"/><circle cx="2053.4" cy="334.2" r="3.9"/><circle cx="2063.55" cy="557.9" r="3.9"/><circle cx="2070.7" cy="336.5" r="3.9"/><circle cx="2078.9" cy="328.8" r="3.9"/><circle cx="2085.5" cy="609.8" r="3.9"/><circle cx="2093.35" cy="611.5" r="3.9"/><circle cx="2102.9" cy="832.6" r="3.9"/><circle cx="2110.35" cy="786.1" r="3.9"/><circle cx="2119.95" cy="752" r="3.9"/><circle cx="2127.5" cy="616.9" r="3.9"/><circle cx="2136.05" cy="506.3" r="3.9"/><circle cx="2144.7" cy="526.2" r="3.9"/><circle cx="2152.4" cy="651" r="3.9"/><circle cx="2159.3" cy="174.4" r="3.9"/><circle cx="2169.4" cy="402.4" r="3.9"/><circle cx="2176.6" cy="321.9" r="3.9"/><circle cx="2184.1" cy="565.1" r="3.9"/><circle cx="2193.4" cy="734.9" r="3.9"/><circle cx="2201" cy="784" r="3.9"/><circle cx="2208.5" cy="830.4" r="3.9"/><circle cx="2218" cy="737.1" r="3.9"/><circle cx="2225.2" cy="691" r="3.9"/><circle cx="2232.7" cy="575.2" r="3.9"/><circle cx="2243.55" cy="557.9" r="3.9"/><circle cx="2250" cy="495.9" r="3.9"/><circle cx="2257.6" cy="643.5" r="3.9"/><circle cx="2267.7" cy="442.2" r="3.9"/><circle cx="2275.1" cy="589.5" r="3.9"/><circle cx="2282.4" cy="601.8" r="3.9"/><circle cx="2288.9" cy="685.5" r="3.9"/><circle cx="2299.1" cy="712.7" r="3.9"/><circle cx="2306.6" cy="893.7" r="3.9"/><circle cx="2313.8" cy="729.5" r="3.9"/><circle cx="2323.7" cy="679" r="3.9"/><circle cx="2331.05" cy="653.2" r="3.9"/><circle cx="2338.95" cy="469.5" r="3.9"/><circle cx="2349" cy="550.6" r="3.9"/><circle cx="2355.9" cy="638.5" r="3.9"/><circle cx="2363" cy="397.9" r="3.9"/><circle cx="2371" cy="515.8" r="3.9"/><circle cx="2380.75" cy="609.3" r="3.9"/><circle cx="2387.7" cy="739.7" r="3.9"/><circle cx="2397" cy="862.4" r="3.9"/><circle cx="2404.75" cy="830.4" r="3.9"/><circle cx="2412" cy="818.5" r="3.9"/><circle cx="2421.8" cy="712.7" r="3.9"/><circle cx="2429.15" cy="678" r="3.9"/><circle cx="2437.35" cy="629.1" r="3.9"/><circle cx="2444.45" cy="685.2" r="3.9"/></g>
<polygon points="1476.5,172.7 1484.9,196.2 1492.1,130.44 1501.8,366.97 1509.6,396.94 1516.45,491.61 1524,606.02 1533.8,638.42 1541.35,553.57 1550.5,332.7 1558.4,329 1565.9,279.89 1575.7,207.7 1583,110.3 1591,207.7 1597.95,309.46 1607.6,478.75 1615.5,561.87 1622.2,429.34 1632.1,366.97 1639.9,181.7 1646.8,362.01 1656.6,296.8 1663.95,212.76 1671.75,229.57 1680.9,267.23 1688.85,389.34 1696.4,387.12 1703.2,444.02 1713.1,536.06 1720.5,601.26 1727.9,538.89 1737.8,486.85 1744.9,463.16 1752,322.11 1762.3,419.31 1769.75,431.56 1779.7,252.9 1787,476.52 1794.4,438.96 1801.15,613.72 1810.9,715.47 1818.8,799.92 1826.55,760.53 1836.5,633.36 1843.5,401.8 1851,292.45 1860.7,466.19 1867.25,399.16 1875.7,364.13 1882.95,381.65 1892.45,339.02 1899.8,541.02 1907.2,675.48 1917.1,692.49 1924.55,636.19 1933.95,598.33 1942.05,511.35 1949.1,404.23 1956.9,498.8 1966.55,443.61 1973.25,194.2 1981.1,201.1 1990.9,496.67 1998.4,404.23 2005.3,595.79 2015.7,717.9 2022.7,521.17 2029.95,570.99 2040.25,423.87 2047.7,351.68 2054.6,319.78 2064.75,546.28 2071.9,322.11 2080.1,314.32 2086.7,598.83 2094.55,600.55 2104.1,824.42 2111.55,777.34 2121.15,742.81 2128.7,606.02 2137.25,494.04 2145.9,514.19 2153.6,640.55 2160.5,159.1 2170.6,388.84 2177.8,307.33 2185.3,553.57 2194.6,725.5 2202.2,775.21 2209.7,822.19 2219.2,727.72 2226.4,681.05 2233.9,563.8 2244.75,546.28 2251.2,483.51 2258.8,632.95 2268.9,429.13 2276.3,578.28 2283.6,590.73 2290.1,675.48 2300.3,703.02 2307.8,886.28 2315,720.03 2324.9,668.9 2332.25,642.77 2340.15,456.78 2350.2,538.89 2357.1,627.89 2364.2,384.28 2372.2,503.66 2381.95,598.33 2388.9,730.36 2398.2,854.59 2405.95,822.19 2413.2,810.14 2423,703.02 2430.35,667.88 2438.55,618.37 2445.65,675.18 2445.65,692.23 2438.55,636.83 2430.35,685.12 2423,719.38 2413.2,823.86 2405.95,835.61 2398.2,867.21 2388.9,746.04 2381.95,617.27 2372.2,524.94 2364.2,408.52 2357.1,646.11 2350.2,559.31 2340.15,479.22 2332.25,660.63 2324.9,686.1 2315,735.97 2307.8,898.12 2300.3,719.38 2290.1,692.52 2283.6,609.87 2276.3,597.72 2268.9,452.27 2258.8,651.05 2251.2,505.29 2244.75,566.52 2233.9,583.6 2226.4,697.95 2219.2,743.48 2209.7,835.61 2202.2,789.79 2194.6,741.3 2185.3,573.63 2177.8,333.47 2170.6,412.96 2160.5,186.7 2153.6,658.45 2145.9,535.21 2137.25,515.56 2128.7,624.78 2121.15,758.19 2111.55,791.86 2104.1,837.78 2094.55,619.45 2086.7,617.77 2080.1,340.28 2071.9,347.89 2064.75,566.52 2054.6,345.62 2047.7,376.72 2040.25,447.13 2029.95,590.61 2022.7,542.03 2015.7,733.9 2005.3,614.81 1998.4,427.97 1990.9,518.13 1981.1,232.1 1973.25,225.2 1966.55,466.39 1956.9,520.2 1949.1,427.97 1942.05,532.45 1933.95,617.27 1924.55,654.21 1917.1,709.11 1907.2,692.52 1899.8,561.38 1892.45,364.38 1882.95,405.95 1875.7,388.87 1867.25,423.04 1860.7,488.41 1851,318.95 1843.5,425.6 1836.5,651.44 1826.55,775.47 1818.8,813.88 1810.9,731.53 1801.15,632.28 1794.4,461.84 1787,498.48 1779.7,274.5 1769.75,454.64 1762.3,442.69 1752,347.89 1744.9,485.44 1737.8,508.55 1727.9,559.31 1720.5,620.14 1713.1,556.54 1703.2,466.78 1696.4,411.28 1688.85,413.46 1680.9,294.37 1671.75,257.63 1663.95,241.24 1656.6,323.2 1646.8,386.79 1639.9,208.3 1632.1,391.63 1622.2,452.46 1615.5,581.73 1607.6,500.65 1597.95,335.54 1591,236.3 1583,142.3 1575.7,236.3 1565.9,306.71 1558.4,357 1550.5,360.7 1541.35,573.63 1533.8,656.38 1524,624.78 1516.45,513.19 1509.6,420.86 1501.8,391.63 1492.1,160.96 1484.9,227.4 1476.5,207.7" fill="#e6b566" fill-opacity="0.28"/>
<polyline points="1476.6,307.2 1499.3,320.8 1551.2,354.3 1603,386.7 1629,399.2 1700.3,433.1 1745.6,455.8 1769.4,468.5 1799.7,484 1842.9,499.2 1866.6,502.4 1899,501.5 1946.6,499.5 1960,503.5 1990.7,508.9 2014.5,512.1 2062,518 2133.3,545.6 2185.2,573.7 2231.7,593.6 2258.7,607.2 2285.7,621.2 2332.1,645 2394.8,679.6 2444.5,706.1" fill="none" stroke="#1a1a1a" stroke-width="3.4" stroke-opacity="0.26" stroke-linejoin="round"/>
<polyline points="1476.6,307.2 1499.3,320.8 1551.2,354.3 1603,386.7 1629,399.2 1700.3,433.1 1745.6,455.8 1769.4,468.5 1799.7,484 1842.9,499.2 1866.6,502.4 1899,501.5 1946.6,499.5 1960,503.5 1990.7,508.9 2014.5,512.1 2062,518 2133.3,545.6 2185.2,573.7 2231.7,593.6 2258.7,607.2 2285.7,621.2 2332.1,645 2394.8,679.6 2444.5,706.1" fill="none" stroke="#1a1a1a" stroke-width="1.9" stroke-opacity="0.92" stroke-linejoin="round"/>
<rect x="1428.55" y="69.4" width="1066.1" height="868" fill="none" stroke="#404040" stroke-width="3.3" stroke-opacity="0.25" stroke-linejoin="round"/>
<rect x="1428.55" y="69.4" width="1066.1" height="868" fill="none" stroke="#404040" stroke-width="1.95" stroke-linejoin="round"/>
<path d="M1418.05 135.7H1428.55M1418.05 311.54H1428.55M1418.05 487.38H1428.55M1418.05 663.22H1428.55M1418.05 839.06H1428.55M1477.8 937.4V945.4M1575.8 937.4V945.4M1671.5 937.4V945.4M1769.8 937.4V945.4M1868.2 937.4V945.4M1966.65 937.4V945.4M2064.7 937.4V945.4M2160.6 937.4V945.4M2258.7 937.4V945.4M2357 937.4V945.4M2455.5 937.4V945.4" fill="none" stroke="#404040" stroke-width="3.8" stroke-opacity="0.28"/>
<path d="M1418.05 135.7H1428.55M1418.05 311.54H1428.55M1418.05 487.38H1428.55M1418.05 663.22H1428.55M1418.05 839.06H1428.55M1477.8 937.4V945.4M1575.8 937.4V945.4M1671.5 937.4V945.4M1769.8 937.4V945.4M1868.2 937.4V945.4M1966.65 937.4V945.4M2064.7 937.4V945.4M2160.6 937.4V945.4M2258.7 937.4V945.4M2357 937.4V945.4M2455.5 937.4V945.4" fill="none" stroke="#404040" stroke-width="2.3"/>
<g font-family="'Liberation Sans', Arial, sans-serif" font-size="31.2" fill="#50545e">
<text x="1417.05" y="149.3" text-anchor="end">70</text>
<text x="1417.05" y="325.14" text-anchor="end">60</text>
<text x="1417.05" y="500.98" text-anchor="end">50</text>
<text x="1417.05" y="676.82" text-anchor="end">40</text>
<text x="1417.05" y="852.66" text-anchor="end">30</text>
<text x="1476.2" y="968.2" text-anchor="middle">2008</text>
<text x="1574.01" y="968.2" text-anchor="middle">2009</text>
<text x="1671.82" y="968.2" text-anchor="middle">2010</text>
<text x="1769.63" y="968.2" text-anchor="middle">2011</text>
<text x="1867.44" y="968.2" text-anchor="middle">2012</text>
<text x="1965.25" y="968.2" text-anchor="middle">2013</text>
<text x="2063.06" y="968.2" text-anchor="middle">2014</text>
<text x="2160.87" y="968.2" text-anchor="middle">2015</text>
<text x="2258.68" y="968.2" text-anchor="middle">2016</text>
<text x="2356.49" y="968.2" text-anchor="middle">2017</text>
<text x="2454.3" y="968.2" text-anchor="middle">2018</text>
</g>
<text font-family="'Liberation Sans', Arial, sans-serif" font-weight="bold" fill="#000"><tspan x="1926.65" y="44.3" font-size="59.8" textLength="34.7" lengthAdjust="spacingAndGlyphs">P</tspan><tspan x="1961.4" y="44.3" font-size="59.8" textLength="57.2" lengthAdjust="spacingAndGlyphs">M</tspan><tspan x="2019.6" y="60.1" font-size="40.6" textLength="45.15" lengthAdjust="spacingAndGlyphs">10</tspan></text>
<text transform="translate(1345.7 743.5) rotate(-90)" fill="#000" font-family="'Liberation Sans', Arial, sans-serif" font-size="45" x="-6.83 24.62 50.45 74.28 96.03 121.9 148.97 159.72 174.45 200.82 217.55 232.78 260.7" y="0"><tspan x="-1.4" textLength="26" lengthAdjust="spacingAndGlyphs">C</tspan>oncentration<tspan font-family="'Liberation Sans', Arial, sans-serif" font-size="49.4" x="290.21" y="0">(</tspan><tspan font-family="'DejaVu Serif', 'Liberation Serif', serif" font-style="italic" font-size="43.5" x="308.96 338.88" y="0">μg</tspan><tspan font-family="'Liberation Sans', Arial, sans-serif" font-style="italic" font-size="60" x="372.15" y="10.5">/</tspan><tspan font-family="'DejaVu Serif', 'Liberation Serif', serif" font-style="italic" font-size="43.5" x="393.14" y="0">m</tspan><tspan font-family="'Liberation Serif', serif" font-size="34" x="435.98" y="-18.4">3</tspan><tspan font-family="'Liberation Sans', Arial, sans-serif" font-size="49.4" x="455.53" y="0">)</tspan></text>
</svg>
</body>
</html>
